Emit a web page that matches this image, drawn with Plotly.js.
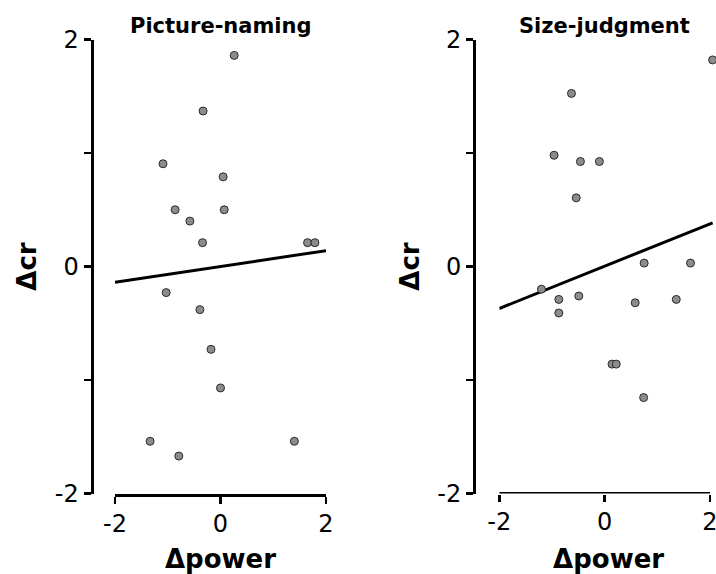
<!DOCTYPE html>
<html>
<head>
<meta charset="utf-8">
<script src="https://cdn.plot.ly/plotly-3.0.1.min.js"></script>
<style>html,body{margin:0;padding:0;background:#fff;overflow:hidden;}#wrap{width:716px;height:574px;overflow:hidden;}#chart{width:740px;height:574px;}</style>
</head>
<body>
<div id="wrap"><div id="chart"></div></div>
<script>
// Picture-naming panel
const pnX = [0.26, -0.33, -1.09, 0.05, -0.86, 0.07, -0.58, -0.34, 1.65, 1.79, -1.03, -0.39, -0.18, 0.0, -1.335, -0.79, 1.40];
const pnY = [1.86, 1.37, 0.905, 0.79, 0.50, 0.50, 0.40, 0.21, 0.21, 0.21, -0.23, -0.38, -0.73, -1.07, -1.54, -1.67, -1.54];
const pnFitX = [-2, 2];
const pnFitY = [-0.14, 0.14];
// Size-judgment panel
const sjX = [2.05, -0.63, -0.96, -0.46, -0.10, -0.54, 0.75, 1.63, -1.20, -0.87, -0.49, -0.87, 0.58, 1.36, 0.14, 0.22, 0.74];
const sjY = [1.82, 1.525, 0.98, 0.925, 0.925, 0.605, 0.03, 0.03, -0.20, -0.29, -0.26, -0.41, -0.32, -0.29, -0.86, -0.86, -1.155];
const sjFitX = [-2, 2.05];
const sjFitY = [-0.37, 0.385];

const panelTitles = ['Picture-naming', 'Size-judgment'];
const xTickVals = [-2, 0, 2];
const xTickText = ['-2', '0', '2'];
const yTickVals = [-2, -1, 0, 1, 2];
const yTickText = ['-2', '', '0', '', '2'];
const xTitle = 'Δpower';
const yTitle = 'Δcr';

const FONT = 'DejaVu Sans';
const marker = {size: 8, color: '#8c8c8c', line: {color: '#2a2a2a', width: 1}};

const traces = [
  {x: pnFitX, y: pnFitY, mode: 'lines', line: {color: '#000', width: 3}, xaxis: 'x', yaxis: 'y', hoverinfo: 'skip'},
  {x: pnX, y: pnY, mode: 'markers', marker: marker, xaxis: 'x', yaxis: 'y', cliponaxis: false},
  {x: sjFitX, y: sjFitY, mode: 'lines', line: {color: '#000', width: 3}, xaxis: 'x2', yaxis: 'y2', hoverinfo: 'skip'},
  {x: sjX, y: sjY, mode: 'markers', marker: marker, xaxis: 'x2', yaxis: 'y2', cliponaxis: false}
];

const W = 740, H = 574;
const yDom = [1 - 493.5 / H, 1 - 39.5 / H];
const unit = 52.7; // px per x unit

function xAxis(dom, anchor, range, showline) {
  return {
    domain: dom, range: range, anchor: anchor,
    showgrid: false, zeroline: false, showline: showline, linecolor: '#000', linewidth: 3,
    ticks: 'outside', ticklen: 7, tickwidth: 2.5, tickcolor: '#000',
    tickvals: xTickVals, ticktext: xTickText,
    tickfont: {family: FONT, size: 24, color: '#000'},
    title: {text: xTitle, font: {family: FONT, size: 26, color: '#000', weight: 'bold'}, standoff: 14}
  };
}
function yAxis(pos) {
  return {
    domain: yDom, range: [-2, 2], anchor: 'free', position: pos,
    showgrid: false, zeroline: false, showline: true, linecolor: '#000', linewidth: 3,
    ticks: 'outside', ticklen: 7, tickwidth: 2.5, tickcolor: '#000',
    tickvals: yTickVals, ticktext: yTickText,
    tickfont: {family: FONT, size: 24, color: '#000'},
    title: {text: yTitle, font: {family: FONT, size: 26, color: '#000', weight: 'bold'}, standoff: 9}
  };
}

const layout = {
  width: W, height: H,
  margin: {l: 0, r: 0, t: 0, b: 0},
  paper_bgcolor: '#fff', plot_bgcolor: '#fff',
  showlegend: false,
  font: {family: FONT, color: '#000'},
  xaxis: xAxis([115 / W, 326 / W], 'y', [-2, 2], true),
  yaxis: yAxis(91.5 / W),
  xaxis2: xAxis([499.3 / W, (710 + 0.15 * unit) / W], 'y2', [-2, 2.15], false),
  yaxis2: yAxis(474 / W),
  shapes: [
    {type: 'line', xref: 'x2', yref: 'y2', x0: -2, x1: 2, y0: -2, y1: -2, line: {color: '#000', width: 3}, layer: 'above'}
  ],
  annotations: [
    {text: '<b>' + panelTitles[0] + '</b>', x: (115 + 326) / 2 / W, y: 1 - 26 / H, xref: 'paper', yref: 'paper', showarrow: false, xanchor: 'center', yanchor: 'middle', font: {family: FONT, size: 21, color: '#000'}},
    {text: '<b>' + panelTitles[1] + '</b>', x: (499.3 + 710) / 2 / W, y: 1 - 26 / H, xref: 'paper', yref: 'paper', showarrow: false, xanchor: 'center', yanchor: 'middle', font: {family: FONT, size: 21, color: '#000'}}
  ]
};

Plotly.newPlot('chart', traces, layout, {displayModeBar: false, staticPlot: true});
</script>
</body>
</html>
